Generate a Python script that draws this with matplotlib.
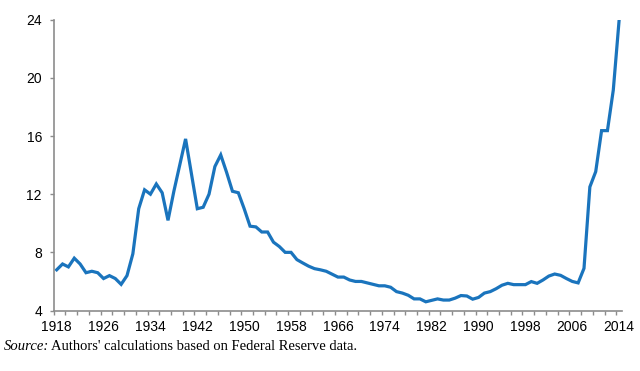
import matplotlib
matplotlib.use("Agg")
import matplotlib.pyplot as plt
import numpy as np

plt.rcParams.update({'font.family': 'Liberation Sans', 'font.size': 10})

# yearly values, 1918-2014
years = list(range(1918, 2015))
values = [
    6.8, 7.2, 7.0, 7.6, 7.2, 6.6, 6.7, 6.6, 6.2, 6.4,      # 1918-1927
    6.2, 5.8, 6.4, 7.9, 11.0, 12.3, 12.0, 12.7, 12.1, 10.2,  # 1928-1937
    12.2, 14.0, 15.8, 13.4, 11.0, 11.1, 12.0, 13.9, 14.7, 13.5,  # 1938-1947
    12.2, 12.1, 11.0, 9.8, 9.75, 9.4, 9.4, 8.7, 8.4, 8.0,    # 1948-1957
    8.0, 7.5, 7.27, 7.05, 6.88, 6.8, 6.7, 6.5, 6.3, 6.3,     # 1958-1967
    6.1, 6.0, 6.0, 5.9, 5.8, 5.7, 5.7, 5.6, 5.3, 5.2,        # 1968-1977
    5.05, 4.8, 4.8, 4.6, 4.7, 4.8, 4.72, 4.72, 4.85, 5.03,   # 1978-1987
    5.0, 4.78, 4.9, 5.2, 5.3, 5.5, 5.74, 5.87, 5.78, 5.78,   # 1988-1997
    5.78, 5.99, 5.87, 6.1, 6.37, 6.51, 6.42, 6.2, 6.0, 5.9,  # 1998-2007
    6.9, 12.5, 13.55, 16.37, 16.37, 19.16, 24.0,             # 2008-2014
]
yticks = [4, 8, 12, 16, 20, 24]
xlabels = list(range(1918, 2015, 8))

fig = plt.figure(figsize=(6.4, 3.71), dpi=100)
ax = fig.add_axes([0.084, 0.163, 0.888, 0.784])

ax.plot(years, values, color='#1a74bd', lw=2.3, solid_joinstyle='miter')

ax.set_xlim(1917.5, 2014.5)
ax.set_ylim(4, 24)
ax.set_yticks(yticks)
ax.set_xticks(xlabels)
ax.set_xticks(np.arange(1917.5, 2015, 2), minor=True)

for s in ['top', 'right']:
    ax.spines[s].set_visible(False)
for s in ['left', 'bottom']:
    ax.spines[s].set_color('#8c8c8c')
    ax.spines[s].set_linewidth(1.2)

ax.tick_params(axis='y', length=3, width=1, color='#8c8c8c', pad=5.5)
ax.tick_params(axis='x', which='major', length=0, pad=6.5)
ax.tick_params(axis='x', which='minor', length=3, width=1, color='#8c8c8c')

fig.text(0.006, 0.057, 'Source:', family='Liberation Serif', style='italic', fontsize=10.5)
fig.text(0.08, 0.057, "Authors' calculations based on Federal Reserve data.",
         family='Liberation Serif', fontsize=10.5)

fig.savefig('out.png', dpi=100)
